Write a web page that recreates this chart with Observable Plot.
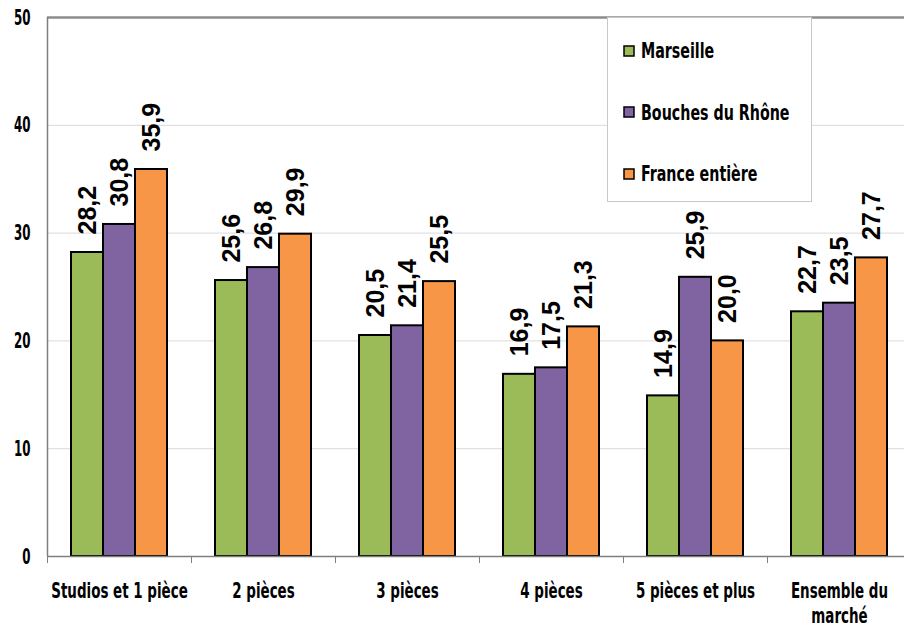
<!DOCTYPE html>
<html>
<head>
<meta charset="utf-8">
<script src="https://cdn.jsdelivr.net/npm/d3@7"></script>
<script src="https://cdn.jsdelivr.net/npm/@observablehq/plot@0.6"></script>
<style>
  html, body { margin: 0; padding: 0; background: #fff; overflow: hidden; }
  #wrap { position: relative; width: 904px; height: 628px; }
  #legend {
    position: absolute; left: 607px; top: 17px; width: 205px; height: 185px;
    border: 1px solid #c8c8c8; background: #fff; box-sizing: border-box;
    padding: 2px 0 0 15px;
  }
  .lg-swatch { height: 61.5px !important; margin: 0 !important; padding: 0 !important; white-space: nowrap; overflow: visible !important; }
  .lg-swatch svg { margin-right: 6px !important; flex-shrink: 0; }
  .lg-swatch rect { x: 1px; y: 1px; width: 10px; height: 10px; stroke: #000; stroke-width: 1.5px; }
  .lg-swatch-label, .lg-text { display: inline-block; overflow: visible !important; text-overflow: clip !important;
    transform: scaleX(0.72); transform-origin: left center; }
</style>
</head>
<body>
<div id="wrap"><div id="chart"></div><div id="legend"></div></div>
<script>
const categories = ["Studios et 1 pièce", "2 pièces", "3 pièces", "4 pièces", "5 pièces et plus", "Ensemble du\nmarché"];
const series = ["Marseille", "Bouches du Rhône", "France entière"];
const marseille = [28.2, 25.6, 20.5, 16.9, 14.9, 22.7];
const bouches = [30.8, 26.8, 21.4, 17.5, 25.9, 23.5];
const france = [35.9, 29.9, 25.5, 21.3, 20.0, 27.7];
const yTicks = [0, 10, 20, 30, 40, 50];
const colors = ["#9BBB59", "#8064A2", "#F79646"];

const valuesBySeries = [marseille, bouches, france];
const data = [];
categories.forEach((c, i) => series.forEach((s, j) => data.push({cat: c, serie: s, value: valuesBySeries[j][i]})));

const narrow = "'Liberation Sans Narrow', 'DejaVu Sans Condensed', 'Arial Narrow', sans-serif";
const fmt = v => v.toFixed(1).replace(".", ",");
const span = {insetLeft: -24, insetRight: -24};
// y-axis line: drawn once, in the first group, at the left edge of the plot area
const axisAnchor = [{cat: categories[0], serie: series[0]}];

const chart = Plot.plot({
  width: 904,
  height: 628,
  marginLeft: 47,
  marginRight: -7,
  marginTop: 17,
  marginBottom: 72,
  style: {fontFamily: narrow, fontWeight: "bold", fontSize: "22px", color: "#000", background: "#fff"},
  fx: {domain: categories, paddingInner: 1/3, paddingOuter: 1/6, label: null},
  x: {domain: series, padding: 0, axis: null},
  y: {domain: [0, 50], label: null},
  color: {domain: series, range: colors},
  marks: [
    Plot.ruleY(yTicks.filter(v => v > 0 && v < 50), {stroke: "#d9d9d9", strokeWidth: 1, ...span}),
    Plot.barY(data, {fx: "cat", x: "serie", y: "value", fill: "serie", stroke: "#000", strokeWidth: 2}),
    Plot.text(data, {fx: "cat", x: "serie", y: "value", text: d => fmt(d.value), rotate: -90, textAnchor: "start", dy: -18,
      fontSize: 25, fontFamily: "'Liberation Sans', Arial, sans-serif", fontWeight: "bold", fill: "#000"}),
    Plot.ruleY([50], {stroke: "#8c8c8c", strokeWidth: 2.5, ...span}),
    Plot.ruleY([0], {stroke: "#7f7f7f", strokeWidth: 1.5, ...span}),
    Plot.ruleX(axisAnchor, {fx: "cat", x: "serie", y1: 0, y2: 50, dx: -40, stroke: "#7f7f7f", strokeWidth: 1.5}),
    Plot.axisY({ticks: yTicks, tickSize: 0, tickPadding: 41, fontSize: 22, fill: "#000", label: null}),
    Plot.axisFx({anchor: "bottom", tickSize: 7, tickFormat: () => "", dx: -72, stroke: "#7f7f7f", label: null}),
    Plot.axisFx({anchor: "bottom", tickSize: 0, tickPadding: 24, fontSize: 22, lineHeight: 1.14, fill: "#000", label: null})
  ]
});
document.getElementById("chart").appendChild(chart);

// condense the tall, narrow axis lettering horizontally around each label's anchor
function squeeze(selector, f) {
  chart.querySelectorAll(selector).forEach(t => {
    const xa = t.getAttribute("x");
    const x = xa && /^-?[\d.]+$/.test(xa) ? +xa : 0;
    const tr = t.getAttribute("transform") || "";
    t.setAttribute("transform", `${tr} translate(${x},0) scale(${f},1) translate(${-x},0)`.trim());
  });
}
squeeze('g[aria-label="y-axis tick label"] text', 0.6);
squeeze('g[aria-label="fx-axis tick label"] text', 0.68);

const legend = Plot.legend({
  color: {type: "ordinal", domain: series, range: colors},
  legend: "swatches",
  columns: 1,
  swatchSize: 12,
  className: "lg",
  style: {fontFamily: narrow, fontWeight: "bold", fontSize: "22px", color: "#000"}
});
document.getElementById("legend").appendChild(legend);
legend.querySelectorAll(".lg-swatch").forEach(sw => {
  Array.from(sw.childNodes).forEach(n => {
    if (n.nodeType === 3 && n.textContent.trim()) {
      const s = document.createElement("span");
      s.className = "lg-text";
      s.textContent = n.textContent;
      sw.replaceChild(s, n);
    }
  });
});
</script>
</body>
</html>
